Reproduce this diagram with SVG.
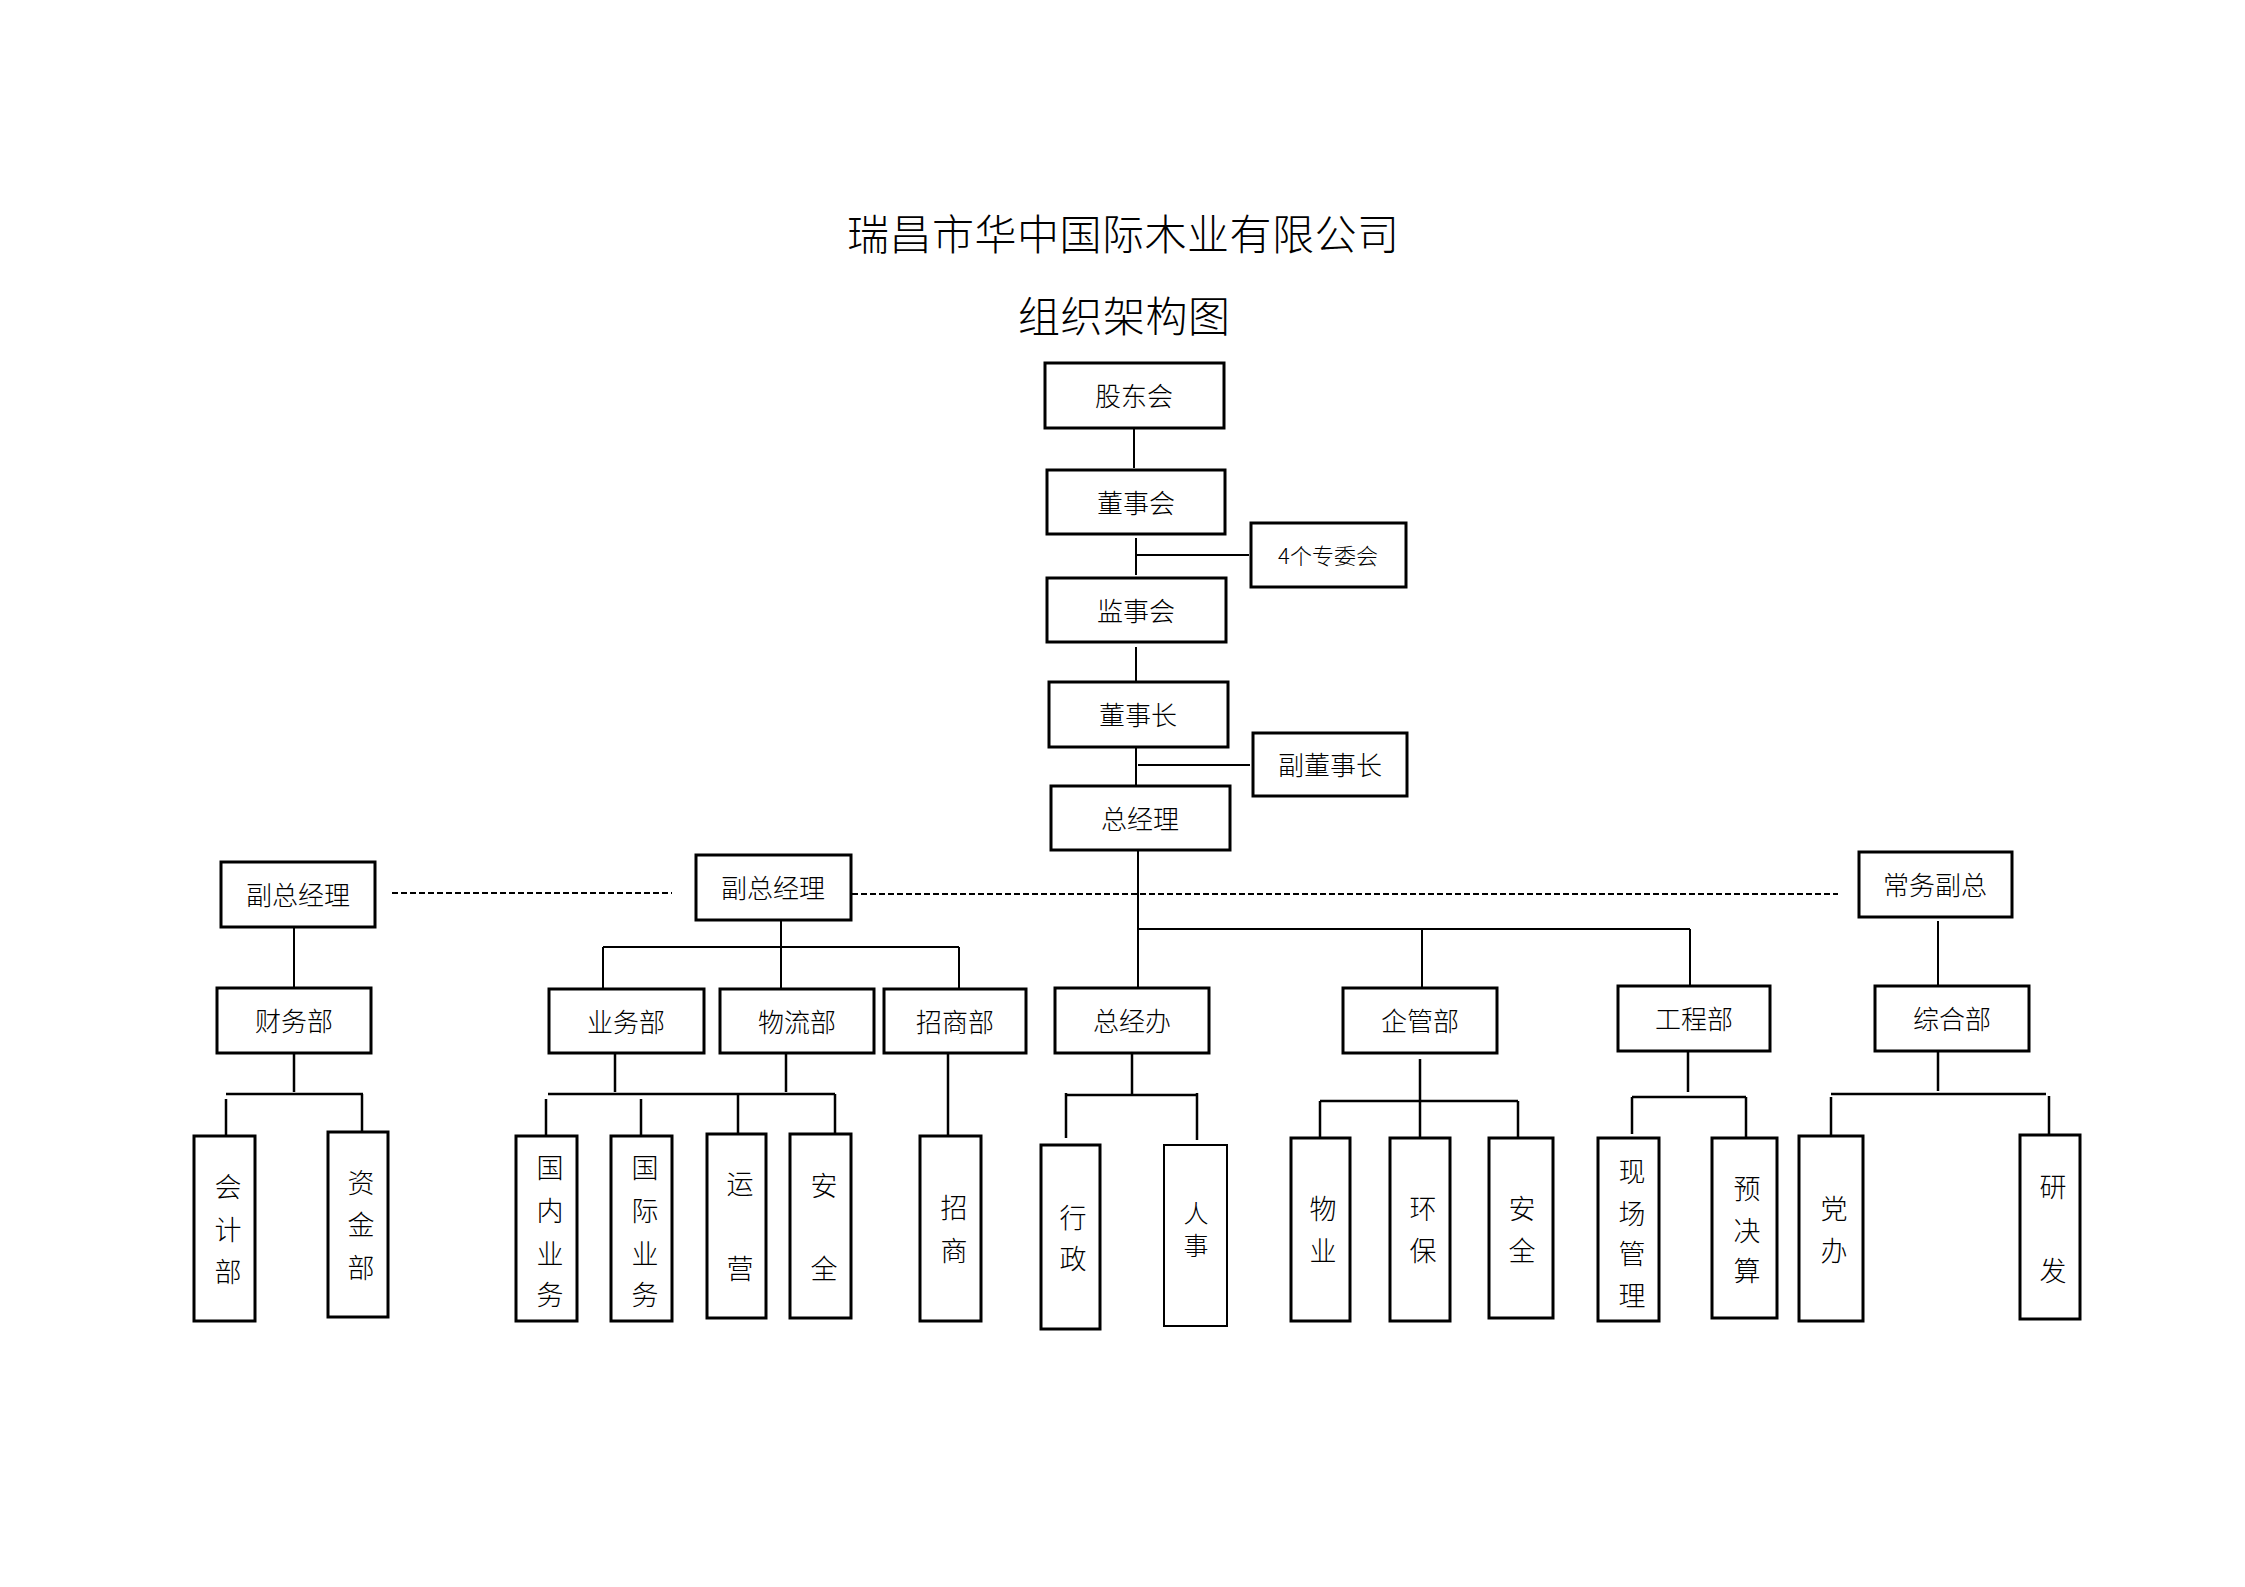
<svg xmlns="http://www.w3.org/2000/svg" width="2245" height="1587" viewBox="0 0 2245 1587">
<style>
.box{fill:#fff;stroke:#000;stroke-width:3}
.bt{stroke-width:2}
.t{font-family:"Noto Sans CJK SC","Noto Sans",sans-serif;font-size:26px;font-weight:300;text-anchor:middle;dominant-baseline:central;fill:#000}
.v{font-size:27px}
.ttl{font-family:"Noto Sans CJK SC","Noto Sans",sans-serif;font-size:42px;font-weight:300;dominant-baseline:central;fill:#000}
.ln{stroke:#000;stroke-width:2;fill:none}
.lb{stroke:#000;stroke-width:2.5;fill:none}
.dash{stroke:#000;stroke-width:2;fill:none;stroke-dasharray:6 3}
</style>
<rect width="2245" height="1587" fill="#fff"/>
<g id="title">
<text class="ttl" x="847" y="231" textLength="552" lengthAdjust="spacing">瑞昌市华中国际木业有限公司</text>
<text class="ttl" x="1018" y="313" textLength="212" lengthAdjust="spacing">组织架构图</text>
</g>
<g id="connectors">
<path class="ln" d="M1134 428V468M1136 538V575M1136 555H1249M1136 647V683M1136 747V785M1138 765H1250M1138 850V987M1138 929H1690M1422 929V987M1690 929V986"/>
<path class="dash" d="M392 893H672M852 894H1838"/>
<path class="ln" d="M294 927V988M781 920V989M603 947H959M603 947V989M959 947V988M1938 921V986"/>
<path class="lb" d="M294 1053V1092M226 1094H363M226 1099V1135M362 1094V1132"/>
<path class="lb" d="M615 1053V1092M786 1053V1092M548 1094H835M546 1099V1136M641 1099V1136M738 1093V1134M835 1094V1134"/>
<path class="lb" d="M948 1053V1136"/>
<path class="lb" d="M1132 1053V1095M1066 1095H1197M1066 1093V1138M1197 1093V1140"/>
<path class="lb" d="M1420 1059V1101M1320 1101H1518M1320 1101V1138M1420 1101V1138M1518 1101V1138"/>
<path class="lb" d="M1688 1051V1092M1632 1097H1746M1632 1097V1134M1746 1097V1138"/>
<path class="lb" d="M1938 1051V1091M1831 1094H2046M1831 1097V1136M2049 1096V1135"/>
</g>
<g id="n-gudonghui"><rect class="box" x="1045" y="363" width="179" height="65"/><text class="t" x="1134" y="394">股东会</text></g>
<g id="n-dongshihui"><rect class="box" x="1047" y="470" width="178" height="64"/><text class="t" x="1136" y="501">董事会</text></g>
<g id="n-zhuanwei"><rect class="box" x="1251" y="523" width="155" height="64"/><text class="t" x="1328" y="554" style="font-size:22px">4个专委会</text></g>
<g id="n-jianshihui"><rect class="box" x="1047" y="578" width="179" height="64"/><text class="t" x="1136" y="609">监事会</text></g>
<g id="n-dongshizhang"><rect class="box" x="1049" y="682" width="179" height="65"/><text class="t" x="1138" y="713">董事长</text></g>
<g id="n-fudongshizhang"><rect class="box" x="1253" y="733" width="154" height="63"/><text class="t" x="1330" y="763">副董事长</text></g>
<g id="n-zongjingli"><rect class="box" x="1051" y="786" width="179" height="64"/><text class="t" x="1140" y="817">总经理</text></g>
<g id="n-fuzong-l"><rect class="box" x="221" y="862" width="154" height="65"/><text class="t" x="298" y="893">副总经理</text></g>
<g id="n-fuzong-m"><rect class="box" x="696" y="855" width="155" height="65"/><text class="t" x="773" y="886">副总经理</text></g>
<g id="n-changwu"><rect class="box" x="1859" y="852" width="153" height="65"/><text class="t" x="1935" y="883">常务副总</text></g>
<g id="n-caiwu"><rect class="box" x="217" y="988" width="154" height="65"/><text class="t" x="294" y="1019">财务部</text></g>
<g id="n-yewu"><rect class="box" x="549" y="989" width="155" height="64"/><text class="t" x="626" y="1020">业务部</text></g>
<g id="n-wuliu"><rect class="box" x="720" y="989" width="154" height="64"/><text class="t" x="797" y="1020">物流部</text></g>
<g id="n-zhaoshangbu"><rect class="box" x="884" y="989" width="142" height="64"/><text class="t" x="955" y="1020">招商部</text></g>
<g id="n-zongjingban"><rect class="box" x="1055" y="988" width="154" height="65"/><text class="t" x="1132" y="1019">总经办</text></g>
<g id="n-qiguan"><rect class="box" x="1343" y="988" width="154" height="65"/><text class="t" x="1420" y="1019">企管部</text></g>
<g id="n-gongcheng"><rect class="box" x="1618" y="986" width="152" height="65"/><text class="t" x="1694" y="1017">工程部</text></g>
<g id="n-zonghe"><rect class="box" x="1875" y="986" width="154" height="65"/><text class="t" x="1952" y="1017">综合部</text></g>
<g id="n-kuaiji"><rect class="box" x="194" y="1136" width="61" height="185"/><text class="t v"><tspan x="228" y="1185">会</tspan><tspan x="228" y="1228">计</tspan><tspan x="228" y="1270">部</tspan></text></g>
<g id="n-zijin"><rect class="box" x="328" y="1132" width="60" height="185"/><text class="t v"><tspan x="361" y="1181">资</tspan><tspan x="361" y="1223">金</tspan><tspan x="361" y="1266">部</tspan></text></g>
<g id="n-guonei"><rect class="box" x="516" y="1136" width="61" height="185"/><text class="t v"><tspan x="550" y="1166">国</tspan><tspan x="550" y="1209">内</tspan><tspan x="550" y="1252">业</tspan><tspan x="550" y="1293">务</tspan></text></g>
<g id="n-guoji"><rect class="box" x="611" y="1136" width="61" height="185"/><text class="t v"><tspan x="645" y="1166">国</tspan><tspan x="645" y="1209">际</tspan><tspan x="645" y="1252">业</tspan><tspan x="645" y="1293">务</tspan></text></g>
<g id="n-yunying"><rect class="box" x="707" y="1134" width="59" height="184"/><text class="t v"><tspan x="740" y="1182">运</tspan><tspan x="740" y="1267">营</tspan></text></g>
<g id="n-anquan1"><rect class="box" x="790" y="1134" width="61" height="184"/><text class="t v"><tspan x="824" y="1184">安</tspan><tspan x="824" y="1267">全</tspan></text></g>
<g id="n-zhaoshang"><rect class="box" x="920" y="1136" width="61" height="185"/><text class="t v"><tspan x="954" y="1206">招</tspan><tspan x="954" y="1249">商</tspan></text></g>
<g id="n-xingzheng"><rect class="box" x="1041" y="1145" width="59" height="184"/><text class="t v"><tspan x="1073" y="1216">行</tspan><tspan x="1073" y="1257">政</tspan></text></g>
<g id="n-renshi"><rect class="box bt" x="1164" y="1145" width="63" height="181"/><text class="t" style="font-size:25px"><tspan x="1196" y="1212">人</tspan><tspan x="1196" y="1244">事</tspan></text></g>
<g id="n-wuye"><rect class="box" x="1291" y="1138" width="59" height="183"/><text class="t v"><tspan x="1323" y="1207">物</tspan><tspan x="1323" y="1249">业</tspan></text></g>
<g id="n-huanbao"><rect class="box" x="1390" y="1138" width="60" height="183"/><text class="t v"><tspan x="1423" y="1207">环</tspan><tspan x="1423" y="1249">保</tspan></text></g>
<g id="n-anquan2"><rect class="box" x="1489" y="1138" width="64" height="180"/><text class="t v"><tspan x="1522" y="1207">安</tspan><tspan x="1522" y="1249">全</tspan></text></g>
<g id="n-xianchang"><rect class="box" x="1598" y="1138" width="61" height="183"/><text class="t v"><tspan x="1632" y="1170">现</tspan><tspan x="1632" y="1212">场</tspan><tspan x="1632" y="1252">管</tspan><tspan x="1632" y="1294">理</tspan></text></g>
<g id="n-yujuesuan"><rect class="box" x="1712" y="1138" width="65" height="180"/><text class="t v"><tspan x="1747" y="1187">预</tspan><tspan x="1747" y="1229">决</tspan><tspan x="1747" y="1269">算</tspan></text></g>
<g id="n-dangban"><rect class="box" x="1799" y="1136" width="64" height="185"/><text class="t v"><tspan x="1834" y="1207">党</tspan><tspan x="1834" y="1249">办</tspan></text></g>
<g id="n-yanfa"><rect class="box" x="2020" y="1135" width="60" height="184"/><text class="t v"><tspan x="2053" y="1185">研</tspan><tspan x="2053" y="1269">发</tspan></text></g>
</svg>
